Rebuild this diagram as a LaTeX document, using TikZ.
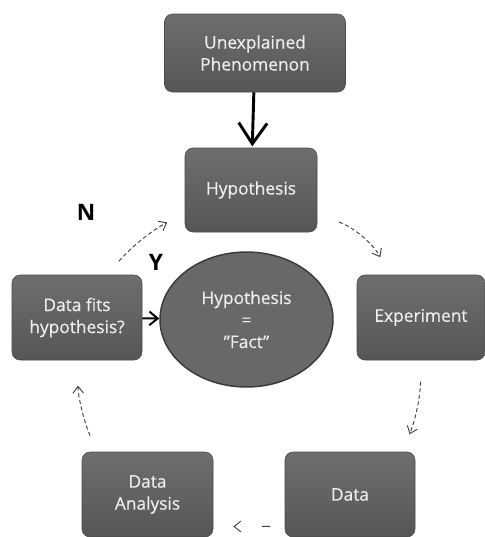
\documentclass[tikz,border=0pt]{standalone}
\usepackage{fontspec}
\setmainfont{Open Sans}
\usepackage{tikz}
\usetikzlibrary{arrows.meta,shapes.geometric}
\definecolor{slate}{HTML}{6E6E6E}
\definecolor{slatedk}{HTML}{565656}
\definecolor{rim}{HTML}{4A4A4A}
\definecolor{chalk}{HTML}{EDEDED}
\definecolor{pencil}{HTML}{404040}
\tikzset{
  every node/.style={font=\fontsize{13}{16.5}\selectfont},
  card/.style={rounded corners=6pt,draw=rim,thin,top color=slate,bottom color=slatedk,
    text=chalk,align=center,inner sep=2pt,font=\fontsize{13}{16.5}\selectfont\addfontfeature{FakeBold=0.5}},
  oval/.style={ellipse,draw=rim!80!black,line width=1.1pt,fill=slate!95!black,
    text=chalk,align=center,inner sep=0pt,font=\fontsize{13}{16.5}\selectfont\addfontfeature{FakeBold=0.5}},
  cyc/.style={pencil,line width=0.7pt,densely dashed,-{Straight Barb[length=1.8mm,width=2.8mm]}},
}

\begin{document}
\begin{tikzpicture}[x=0.75pt,y=-0.75pt,
  big/.style={line width=2.2pt,-{Straight Barb[length=5.5mm,width=7.5mm,line width=2.2pt]}},
  yes/.style={line width=1.5pt,-{Straight Barb[length=2.2mm,width=3.6mm,line width=1.5pt]}},
  tag/.style={font=\fontsize{17}{17}\selectfont\bfseries}]
  \useasboundingbox (0,0) rectangle (485,537);
  \node[card,minimum width=135.75pt,minimum height=58.5pt] (Phen) at (255,53) {Unexplained\\Phenomenon};
  \node[card,minimum width=99pt,minimum height=63pt] (Hyp) at (251,190) {Hypothesis};
  \node[card,minimum width=96pt,minimum height=63.75pt] (Exp) at (421,317.5) {Experiment};
  \node[card,minimum width=97.5pt,minimum height=63.75pt] (Data) at (350,494.5) {Data};
  \node[card,minimum width=98.25pt,minimum height=63.75pt] (Ana) at (147.5,494.5) {Data\\Analysis};
  \node[card,minimum width=97.5pt,minimum height=63.75pt] (Fits) at (77,317.5) {Data fits\\hypothesis?};
  \node[oval,minimum width=129.75pt,minimum height=101.25pt] (Fact) at (246.5,319.5) {Hypothesis\\=\\"Fact"};
  \node[tag] (N) at (86,212) {N};
  \node[tag] (Y) at (156,262) {Y};
  \draw[big,shorten >=1pt] (Phen) -- (Hyp);
  \draw[yes] (Fits) -- (Fact);
  % the loop round the cycle
  \draw[cyc,shorten <=17pt,shorten >=15pt] (Hyp.-21) to[bend left=22] (Exp.126);
  \draw[cyc,shorten <=16pt,shorten >=14pt] (Exp.south) to[bend left=10] (Data.39);
  \draw[cyc,dash pattern=on 6pt off 40pt,shorten <=11pt,shorten >=15pt] (Data.206) -- (Ana.334);
  \draw[cyc,shorten <=13pt,shorten >=19pt] (Ana.140) to[bend left=10] (Fits.south);
  \draw[cyc,shorten <=13.5pt,shorten >=15pt] (Fits.55) to[bend left=10] (Hyp.199);
\end{tikzpicture}
\end{document}
